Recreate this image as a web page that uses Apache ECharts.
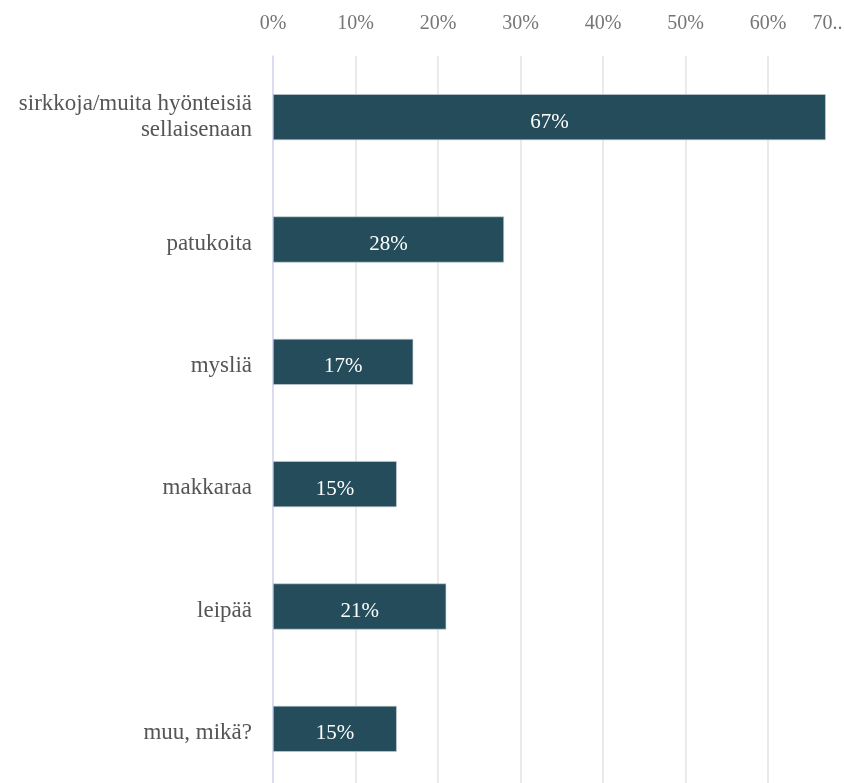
<!DOCTYPE html>
<html>
<head>
<meta charset="utf-8">
<script src="https://cdn.jsdelivr.net/npm/echarts@6/dist/echarts.min.js"></script>
<style>
  html, body { margin: 0; padding: 0; background: #ffffff; overflow: hidden; }
  #chart { width: 844px; height: 783px; }
</style>
</head>
<body>
<div id="chart"></div>
<script>
// Survey answers: share of respondents per product type (%)
const categories = [
  'sirkkoja/muita hyönteisiä\nsellaisenaan',
  'patukoita',
  'mysliä',
  'makkaraa',
  'leipää',
  'muu, mikä?'
];
const shares = [67, 28, 17, 15, 21, 15];
const tickLabels = ['0%', '10%', '20%', '30%', '40%', '50%', '60%', '70..'];

const serif = '"Liberation Serif", "Times New Roman", "DejaVu Serif", serif';

const chart = echarts.init(document.getElementById('chart'), null, { renderer: 'canvas' });

chart.setOption({
  animation: false,
  backgroundColor: '#ffffff',
  // plot area runs a little past the right and bottom edges
  grid: {
    left: 273, top: 56, width: 577.5, height: 734,
    containLabel: false,
    outerBoundsMode: 'none'
  },
  xAxis: {
    type: 'value',
    position: 'top',
    min: 0,
    max: 70,
    interval: 10,
    axisLine: { show: false },
    axisTick: { show: false },
    splitLine: { show: true, lineStyle: { color: '#e3e3e3', width: 1.5 } },
    axisLabel: {
      margin: 22,
      color: '#757575',
      fontFamily: serif,
      fontSize: 20,
      formatter: function (v) {
        const t = tickLabels[Math.round(v / 10)];
        return v === 70 ? '{last|' + t + '}' : t;
      },
      rich: {
        last: { color: '#757575', fontFamily: serif, fontSize: 20, padding: [0, 46, 0, 0] }
      }
    }
  },
  yAxis: {
    type: 'category',
    inverse: true,
    data: categories,
    axisLine: { show: true, lineStyle: { color: '#d3d8f0', width: 1.5 } },
    axisTick: { show: false },
    splitLine: { show: false },
    axisLabel: {
      margin: 21,
      align: 'right',
      // single-line names sit slightly below the band centre
      formatter: function (v) {
        const lines = v.split('\n');
        const style = lines.length > 1 ? 'multi' : 'single';
        return lines.map(function (s) { return '{' + style + '|' + s + '}'; }).join('\n');
      },
      rich: {
        single: {
          color: '#555555',
          fontFamily: serif,
          fontSize: 23,
          lineHeight: 18,
          padding: [8, 0, 0, 0],
          align: 'right'
        },
        multi: {
          color: '#555555',
          fontFamily: serif,
          fontSize: 23,
          lineHeight: 26,
          align: 'right'
        }
      }
    }
  },
  series: [{
    type: 'bar',
    data: shares,
    barWidth: 46,
    itemStyle: { color: '#244c5a', borderColor: '#c9d3d6', borderWidth: 0.6 },
    label: {
      show: true,
      position: 'inside',
      offset: [0, 5],
      color: '#ffffff',
      fontFamily: serif,
      fontSize: 21,
      formatter: '{c}%'
    }
  }]
});
</script>
</body>
</html>
